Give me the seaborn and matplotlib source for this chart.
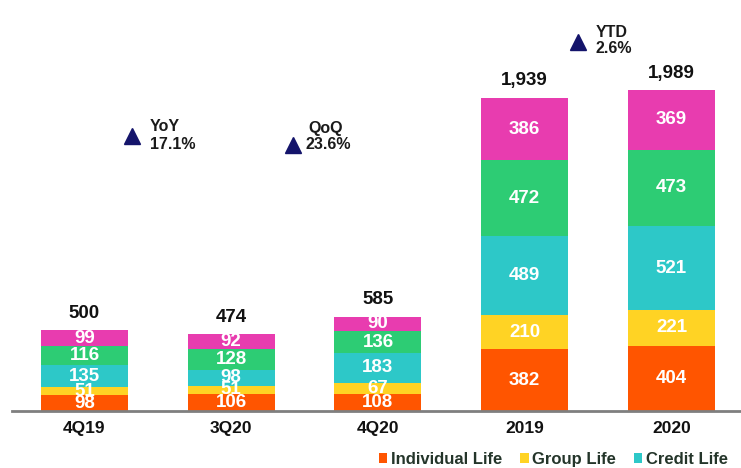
import matplotlib
matplotlib.use("Agg")
import matplotlib.pyplot as plt
import seaborn as sns
import numpy as np
from matplotlib.patches import Patch

# ---- data ----
categories = ["4Q19", "3Q20", "4Q20", "2019", "2020"]
individual_life = [98, 106, 108, 382, 404]
group_life = [51, 51, 67, 210, 221]
credit_life = [135, 98, 183, 489, 521]
segment_four = [116, 128, 136, 472, 473]
segment_five = [99, 92, 90, 386, 369]
totals = ["500", "474", "585", "1,939", "1,989"]
series_names = ["Individual Life", "Group Life", "Credit Life", "Segment 4", "Segment 5"]
legend_names = ["Individual Life", "Group Life", "Credit Life"]
growth_labels = ["YoY", "QoQ", "YTD"]
growth_values = ["17.1%", "23.6%", "2.6%"]

colors = ["#FF5500", "#FFD324", "#2DC8C8", "#2DCC74", "#E83CAF"]

sns.set_theme(style="white")
plt.rcParams["font.family"] = ["Liberation Sans", "DejaVu Sans"]

W, H = 741, 468
fig = plt.figure(figsize=(W / 100, H / 100), dpi=100)
ax = fig.add_axes([12 / W, 57 / H, 728 / W, 411 / H])

series = [individual_life, group_life, credit_life, segment_four, segment_five]
vals = np.array(series, dtype=float)
cum = np.cumsum(vals, axis=0)

bar_w = 0.593
for i in reversed(range(len(series))):
    sns.barplot(x=categories, y=cum[i], order=categories, color=colors[i],
                saturation=1, width=bar_w, errorbar=None, linewidth=0, ax=ax)

# segment labels
for i in range(len(series)):
    for j, cat in enumerate(categories):
        center = cum[i][j] - vals[i][j] / 2
        ax.text(j, center, f"{int(vals[i][j])}", ha="center", va="center",
                color="white", fontsize=13.5, fontweight="bold")

# totals
for j, t in enumerate(totals):
    ax.annotate(t, (j, cum[-1][j]), xytext=(0, 9), textcoords="offset points",
                ha="center", va="baseline", fontsize=13.5, fontweight="bold",
                color="#111111")

ax.set_xlim(-0.494, 4.467)
ax.set_ylim(0, 2546)

# growth annotations (data coordinates)
tri_pos = [(0.324, 1704), (1.421, 1648), (3.362, 2286)]
text_pos = [(0.447, 1760, 1648), (1.525, 1753, 1648), (3.485, 2342, 2243)]
for k in range(3):
    ax.plot(*tri_pos[k], marker="^", markersize=12, color="#14146B", clip_on=False)
    x, y1, y2 = text_pos[k]
    ax.text(x, y1, growth_labels[k], ha="left", va="center", fontsize=11.5,
            fontweight="bold", color="#1a1a1a")
    ax.text(x - (0.02 if k == 1 else 0), y2, growth_values[k], ha="left", va="center",
            fontsize=11.5, fontweight="bold", color="#1a1a1a")

# axes styling
for s in ["top", "right", "left"]:
    ax.spines[s].set_visible(False)
ax.spines["bottom"].set_color("#7F7F7F")
ax.spines["bottom"].set_linewidth(2)
ax.set_yticks([])
ax.set_ylabel("")
ax.tick_params(axis="x", length=0, pad=7)
for lbl in ax.get_xticklabels():
    lbl.set_fontweight("bold")
    lbl.set_fontsize(12.5)
    lbl.set_color("#111111")

handles = [Patch(facecolor=colors[i], edgecolor="none") for i in range(3)]
leg = fig.legend(handles, legend_names, loc="lower left",
                 bbox_to_anchor=(364 / W, -0.03), ncol=3, frameon=False,
                 handlelength=0.5, handleheight=0.5, handletextpad=0.2,
                 columnspacing=1.1, prop={"weight": "bold", "size": 12})
for t in leg.get_texts():
    t.set_color("#24352A")

fig.savefig("out.png", dpi=100)
